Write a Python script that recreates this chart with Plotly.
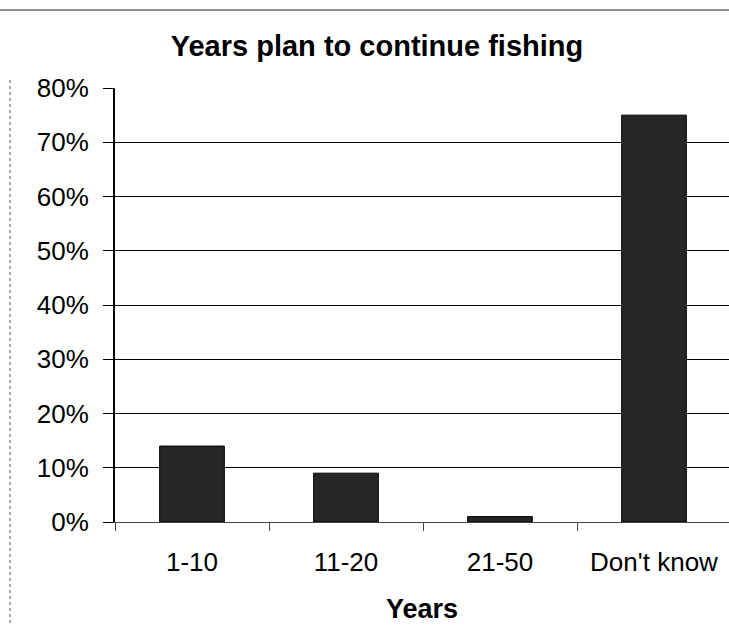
import plotly.graph_objects as go

# Survey responses: how many more years fishers plan to keep fishing
categories = ["1-10", "11-20", "21-50", "Don't know"]
shares = [14, 9, 1, 75]          # percent of respondents
y_ticks = [0, 10, 20, 30, 40, 50, 60, 70, 80]
y_tick_text = [f"{v}%" for v in y_ticks]

W, H = 729, 625
L, R, T, B = 115, 0, 88, 103
plot_w = W - L - R
plot_h = H - T - B

FONT = "Liberation Sans, Arial, sans-serif"

fig = go.Figure(
    go.Bar(
        x=categories,
        y=shares,
        width=0.42,
        marker=dict(color="#262626", line=dict(color="#000000", width=1)),
        hoverinfo="x+y",
    )
)

# the plot frame runs a little past the right page edge
cat_px = 154.0
x_hi = 3.5 - (L + 4 * cat_px - W) / cat_px

fig.update_layout(
    width=W,
    height=H,
    margin=dict(l=L, r=R, t=T, b=B, pad=0),
    paper_bgcolor="white",
    plot_bgcolor="white",
    showlegend=False,
    bargap=0.58,
    title=dict(
        text="<b>Years plan to continue fishing</b>",
        font=dict(family=FONT, size=29, color="black"),
        x=377 / W,
        xanchor="center",
        xref="container",
        y=1 - 46 / H,
        yanchor="middle",
        yref="container",
    ),
    xaxis=dict(
        type="category",
        range=[-0.5, x_hi],
        showgrid=False,
        showline=True,
        linecolor="#444444",
        linewidth=1,
        ticks="outside",
        tickson="boundaries",
        ticklen=8,
        tickcolor="#444444",
        tickfont=dict(family=FONT, size=26, color="black"),
        ticklabelstandoff=17,
        title=dict(
            text="<b>Years</b>",
            font=dict(family=FONT, size=27, color="black"),
            standoff=22,
        ),
        fixedrange=True,
    ),
    yaxis=dict(
        range=[0, 80],
        tickvals=y_ticks,
        ticktext=y_tick_text,
        showgrid=True,
        gridcolor="black",
        gridwidth=1,
        zeroline=False,
        showline=True,
        linecolor="black",
        linewidth=2,
        ticks="outside",
        ticklen=10,
        tickcolor="black",
        tickfont=dict(family=FONT, size=26, color="black"),
        ticklabelstandoff=9,
        fixedrange=True,
    ),
    shapes=[
        # outer chart frame: top edge and dotted left edge
        dict(
            type="line", xref="paper", yref="paper",
            x0=-L / plot_w, x1=(W - L) / plot_w,
            y0=(plot_h + T - 10) / plot_h, y1=(plot_h + T - 10) / plot_h,
            line=dict(color="#222222", width=1),
        ),
        dict(
            type="line", xref="paper", yref="paper",
            x0=(10 - L) / plot_w, x1=(10 - L) / plot_w,
            y0=(plot_h + T - 80) / plot_h, y1=-B / plot_h,
            line=dict(color="#555555", width=1, dash="dot"),
        ),
    ],
)

fig.write_html("out.html", config={"displayModeBar": False})
